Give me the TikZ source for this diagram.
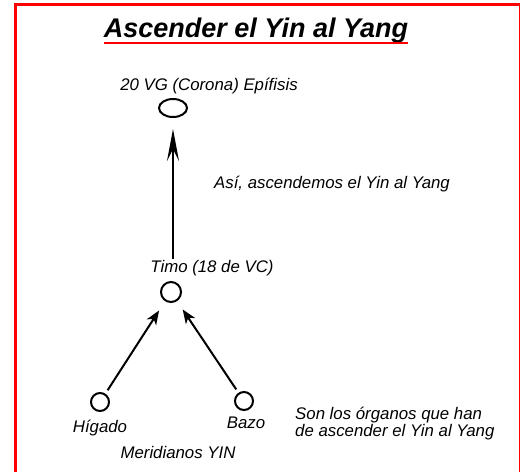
\documentclass[tikz,border=0pt]{standalone}
\usepackage{fontspec}
\setmainfont{Liberation Sans}
\usetikzlibrary{arrows.meta,shapes.geometric}

\begin{document}
\begin{tikzpicture}[x=1pt,y=-1pt,
	txt/.style={font=\fontsize{16.8}{17}\selectfont\itshape, inner sep=0pt},
	punto/.style={draw, circle, line width=2pt, inner sep=0pt, minimum size=18pt},
	flecha/.style={line width=2pt, -{Stealth[length=14pt,width=11pt,inset=4pt]}}]
	\useasboundingbox (0,0) rectangle (521,472);
	% marco rojo
	\draw[red, line width=3pt] (15.5,472) -- (15.5,4.5) -- (520,4.5);
	\draw[red, line width=1.5pt] (519.5,4.5) -- (519.5,472);
	% titulo
	\node[anchor=base, inner sep=0pt, font=\fontsize{27}{30}\selectfont\bfseries\itshape] (titulo) at (256,37) {Ascender el Yin al Yang};
	\draw[red, line width=2.5pt] ([yshift=-6pt]titulo.base west) -- ([yshift=-6pt]titulo.base east);
	% puntos
	\node[draw, ellipse, line width=2pt, inner sep=0pt, minimum width=28pt, minimum height=18pt] (epi) at (173,108) {};
	\node[punto, minimum size=20pt] (timo) at (171,292) {};
	\node[punto] (higado) at (100,402) {};
	\node[punto] (bazo) at (244,401) {};
	% textos
	\node[txt, anchor=base] (epitxt) at (209,90) {20 VG (Corona) Epífisis};
	\node[txt, anchor=base] (asi) at (332,188) {Así, ascendemos el Yin al Yang};
	\node[txt, anchor=base] (timotxt) at (212,272) {Timo (18 de VC)};
	\node[txt, anchor=base] (higtxt) at (100,432) {Hígado};
	\node[txt, anchor=base] (bazotxt) at (246,428) {Bazo};
	\node[txt, anchor=base] (meridianos) at (178,458) {Meridianos YIN};
	\node[txt, anchor=north west, align=left] (organos) at (295,407) {Son los órganos que han\\de ascender el Yin al Yang};
	% flechas
	\draw[line width=2pt, -{Stealth[length=32pt,width=12pt,inset=12pt]}, shorten >=11pt] ([yshift=1pt]timotxt.north -| epi) -- (epi.south);
	\draw[flecha, shorten <=4pt, shorten >=11pt] (higado) -- (timo);
	\draw[flecha, shorten <=4pt, shorten >=10pt] (bazo) -- (timo);
\end{tikzpicture}
\end{document}
